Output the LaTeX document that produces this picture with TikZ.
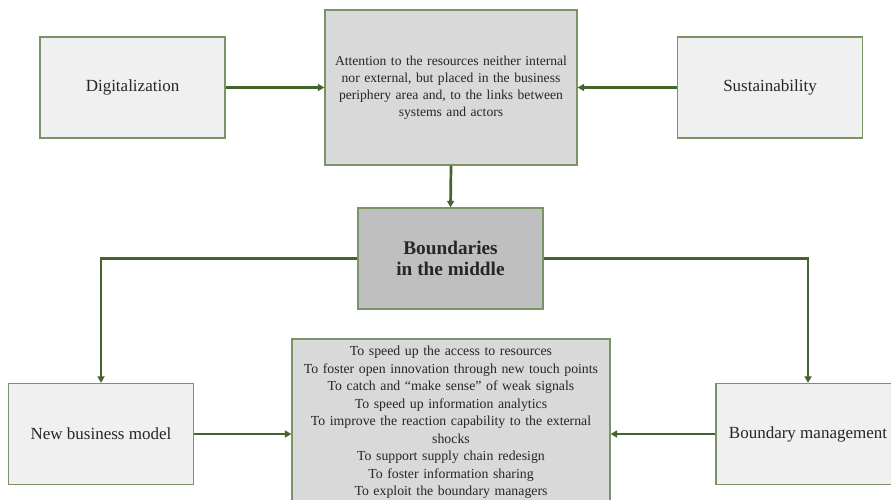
\documentclass[tikz,border=0pt]{standalone}
\usepackage{fontspec}
\setmainfont{Liberation Serif}
\usetikzlibrary{arrows.meta}
\definecolor{bordergreen}{HTML}{7A9466}
\definecolor{arrowgreen}{HTML}{43652D}
\definecolor{lightfill}{HTML}{F0F0F0}
\definecolor{midfill}{HTML}{D9D9D9}
\definecolor{darkfill}{HTML}{BFBFBF}
\begin{document}
\begin{tikzpicture}[x=1pt,y=-1pt,
  box/.style={draw=bordergreen, line width=1.3pt, rectangle, align=center, inner sep=2pt, text=black!85},
  outerbox/.style={box, fill=lightfill, minimum width=185pt, minimum height=101pt, font=\fontsize{17}{20}\selectfont},
  conn/.style={draw=arrowgreen, line width=2.7pt, -{Triangle[length=6.5pt,width=7pt]}}]
\useasboundingbox (0,0) rectangle (891,499);
\clip (0,0) rectangle (891,499);
\fill[white] (0,0) rectangle (891,499);
\node[outerbox] (dig) at (132.5,87.5) {Digitalization};
\node[outerbox] (sus) at (770,87.5) {Sustainability};
\node[box, fill=midfill, minimum width=252pt, minimum height=155pt, text width=246pt, font=\fontsize{13.6}{17}\selectfont] (top) at (451,87.5)
  {Attention to the resources neither internal\\ nor external, but placed in the business\\ periphery area and, to the links between\\ systems and actors};
\node[box, fill=darkfill, minimum width=185pt, minimum height=101pt, font=\fontsize{19.3}{21.5}\selectfont\bfseries] (mid) at (450.5,258.5)
  {Boundaries\\ in the middle};
\node[outerbox] (nbm) at (101,434) {New business model};
\node[outerbox, minimum width=184pt] (bm) at (808,434) {Boundary management};
\node[box, fill=midfill, minimum width=318pt, minimum height=167pt, text width=312pt, font=\fontsize{13.8}{17.5}\selectfont] (bot) at (451,422.5)
  {To speed up the access to resources\\
   To foster open innovation through new touch points\\
   To catch and ``make sense'' of weak signals\\
   To speed up information analytics\\
   To improve the reaction capability to the external\\
   shocks\\
   To support supply chain redesign\\
   To foster information sharing\\
   To exploit the boundary managers};
\draw[conn] (dig.east) -- (top.west |- dig.east);
\draw[conn] (sus.west) -- (top.east |- sus.west);
\draw[conn] (top.south) -- (mid.north);
\draw[conn] (mid.west) -| (nbm.north);
\draw[conn] (mid.east) -| (bm.north);
\draw[conn] (nbm.east) -- (bot.west |- nbm.east);
\draw[conn] (bm.west) -- (bot.east |- bm.west);
\end{tikzpicture}
\end{document}
